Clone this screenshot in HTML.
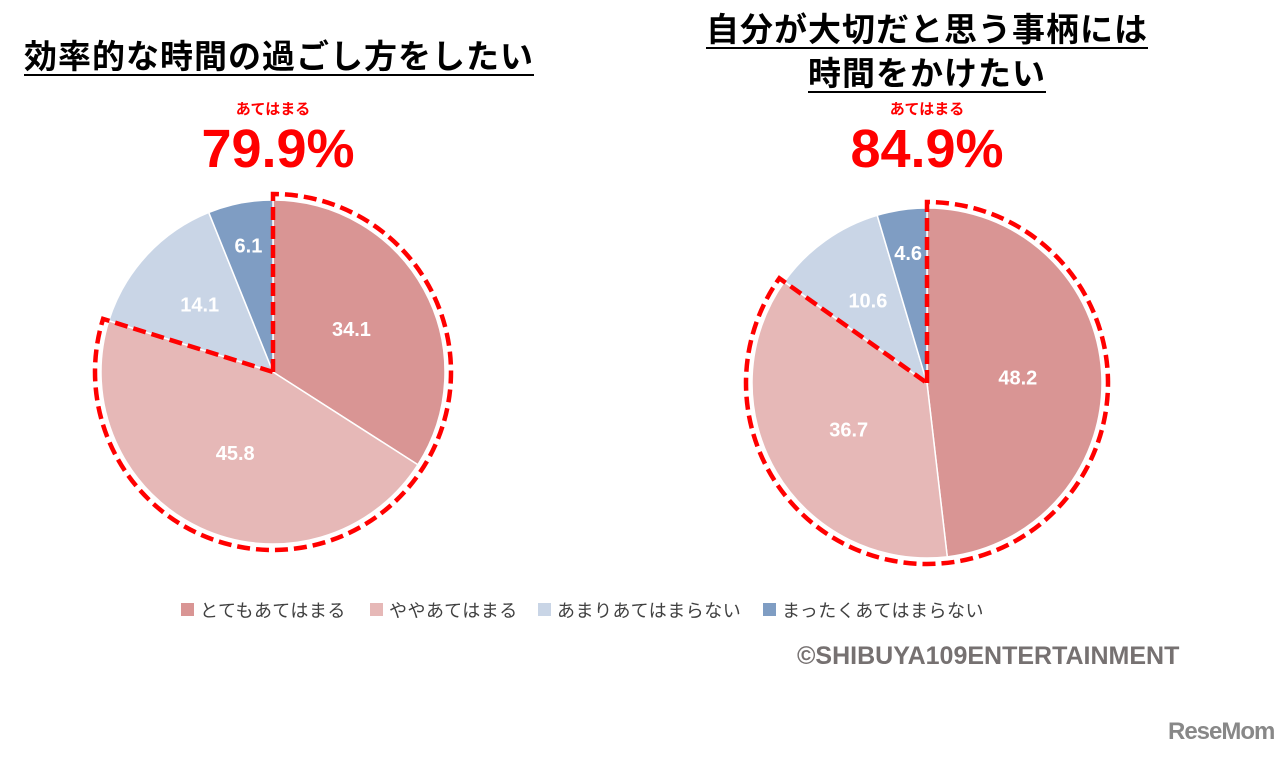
<!DOCTYPE html>
<html><head><meta charset="utf-8"><style>
body{margin:0;width:1280px;height:758px;background:#fff;overflow:hidden;font-family:"Liberation Sans","Noto Sans CJK JP",sans-serif;position:relative}
.t{position:absolute;font-weight:bold;color:#000;text-align:center;white-space:nowrap}
.u{text-decoration:underline;text-underline-offset:6px;text-decoration-thickness:2px}
</style></head><body>
<div class="t u" style="left:0;width:558px;top:30px;font-size:33px;letter-spacing:1px">効率的な時間の過ごし方をしたい</div>
<div class="t u" style="left:627px;width:600px;top:8px;font-size:33px;line-height:44px;letter-spacing:1px">自分が大切だと思う事柄には<br>時間をかけたい</div>
<div class="t" style="left:173px;width:200px;top:98px;font-size:15px;color:#f00">あてはまる</div>
<div class="t" style="left:128px;width:300px;top:118px;font-size:54px;color:#f00">79.9%</div>
<div class="t" style="left:827px;width:200px;top:98px;font-size:15px;color:#f00">あてはまる</div>
<div class="t" style="left:777px;width:300px;top:118px;font-size:54px;color:#f00">84.9%</div>
<svg id="svg" width="1280" height="758" style="position:absolute;left:0;top:0"></svg>
<div class="t" style="left:797px;top:642px;font-size:25px;color:#767171">©SHIBUYA109ENTERTAINMENT</div>
<div class="t" style="left:1168px;top:718px;font-size:24px;color:#888;letter-spacing:-1px">ReseMom</div>
<script>
const categories=["とてもあてはまる","ややあてはまる","あまりあてはまらない","まったくあてはまらない"];
const leftValues=[34.1,45.8,14.1,6.1];
const rightValues=[48.2,36.7,10.6,4.6];
const colors=["#d99594","#e6b8b7","#c9d5e6","#7f9dc3"];
const NS="http://www.w3.org/2000/svg";
const svg=document.getElementById('svg');
function pt(cx,cy,r,f){const a=f*2*Math.PI;return [cx+r*Math.sin(a),cy-r*Math.cos(a)];}
function pie(vals,cx,cy,r,name){
 const tot=vals.reduce((a,b)=>a+b,0);let acc=0;
 vals.forEach((v,i)=>{
  const f0=acc/tot,f1=(acc+v)/tot;acc+=v;
  const p0=pt(cx,cy,r,f0),p1=pt(cx,cy,r,f1);
  const p=document.createElementNS(NS,'path');
  p.setAttribute('d',`M${cx},${cy}L${p0}A${r},${r} 0 ${f1-f0>0.5?1:0} 1 ${p1}Z`);
  p.setAttribute('fill',colors[i]);p.setAttribute('stroke','#fff');p.setAttribute('stroke-width','1.5');
  
  
  svg.appendChild(p);
  const k=v<8?0.75:v<20?0.58:0.52;
  const m=pt(cx,cy,r*k,(f0+f1)/2);
  const t=document.createElementNS(NS,'text');
  t.setAttribute('x',m[0]);t.setAttribute('y',m[1]+7);t.setAttribute('text-anchor','middle');
  t.setAttribute('font-size','20');t.setAttribute('font-weight','bold');t.setAttribute('fill','#fff');
  t.setAttribute('font-family','Liberation Sans, sans-serif');
  t.textContent=v.toFixed(1);
  
  
  svg.appendChild(t);
 });
 const f=(vals[0]+vals[1])/tot,R=r+6;
 const a=pt(cx,cy,R,0),b=pt(cx,cy,R,f);
 const d=document.createElementNS(NS,'path');
 d.setAttribute('d',`M${cx},${cy}L${a}A${R},${R} 0 ${f>0.5?1:0} 1 ${b}Z`);
 d.setAttribute('fill','none');d.setAttribute('stroke','#f00');d.setAttribute('stroke-width','4.5');d.setAttribute('stroke-dasharray','13 6');
 
 
 svg.appendChild(d);
}
pie(leftValues,273,372,172,'left-pie');
pie(rightValues,927,383,175,'right-pie');
const lx=[181,370,538,763];
categories.forEach((c,i)=>{
 const r=document.createElementNS(NS,'rect');
 r.setAttribute('x',lx[i]);r.setAttribute('y',603);r.setAttribute('width',13);r.setAttribute('height',13);r.setAttribute('fill',colors[i]);
 
 
 svg.appendChild(r);
 const t=document.createElementNS(NS,'text');
 t.setAttribute('x',lx[i]+19);t.setAttribute('y',617);t.setAttribute('font-size','18');t.setAttribute('fill','#404040');
 t.setAttribute('letter-spacing','0.5');
 t.setAttribute('font-family','Liberation Sans, Noto Sans CJK JP, sans-serif');
 t.textContent=c;
 
 
 svg.appendChild(t);
});
</script>
</body></html>
